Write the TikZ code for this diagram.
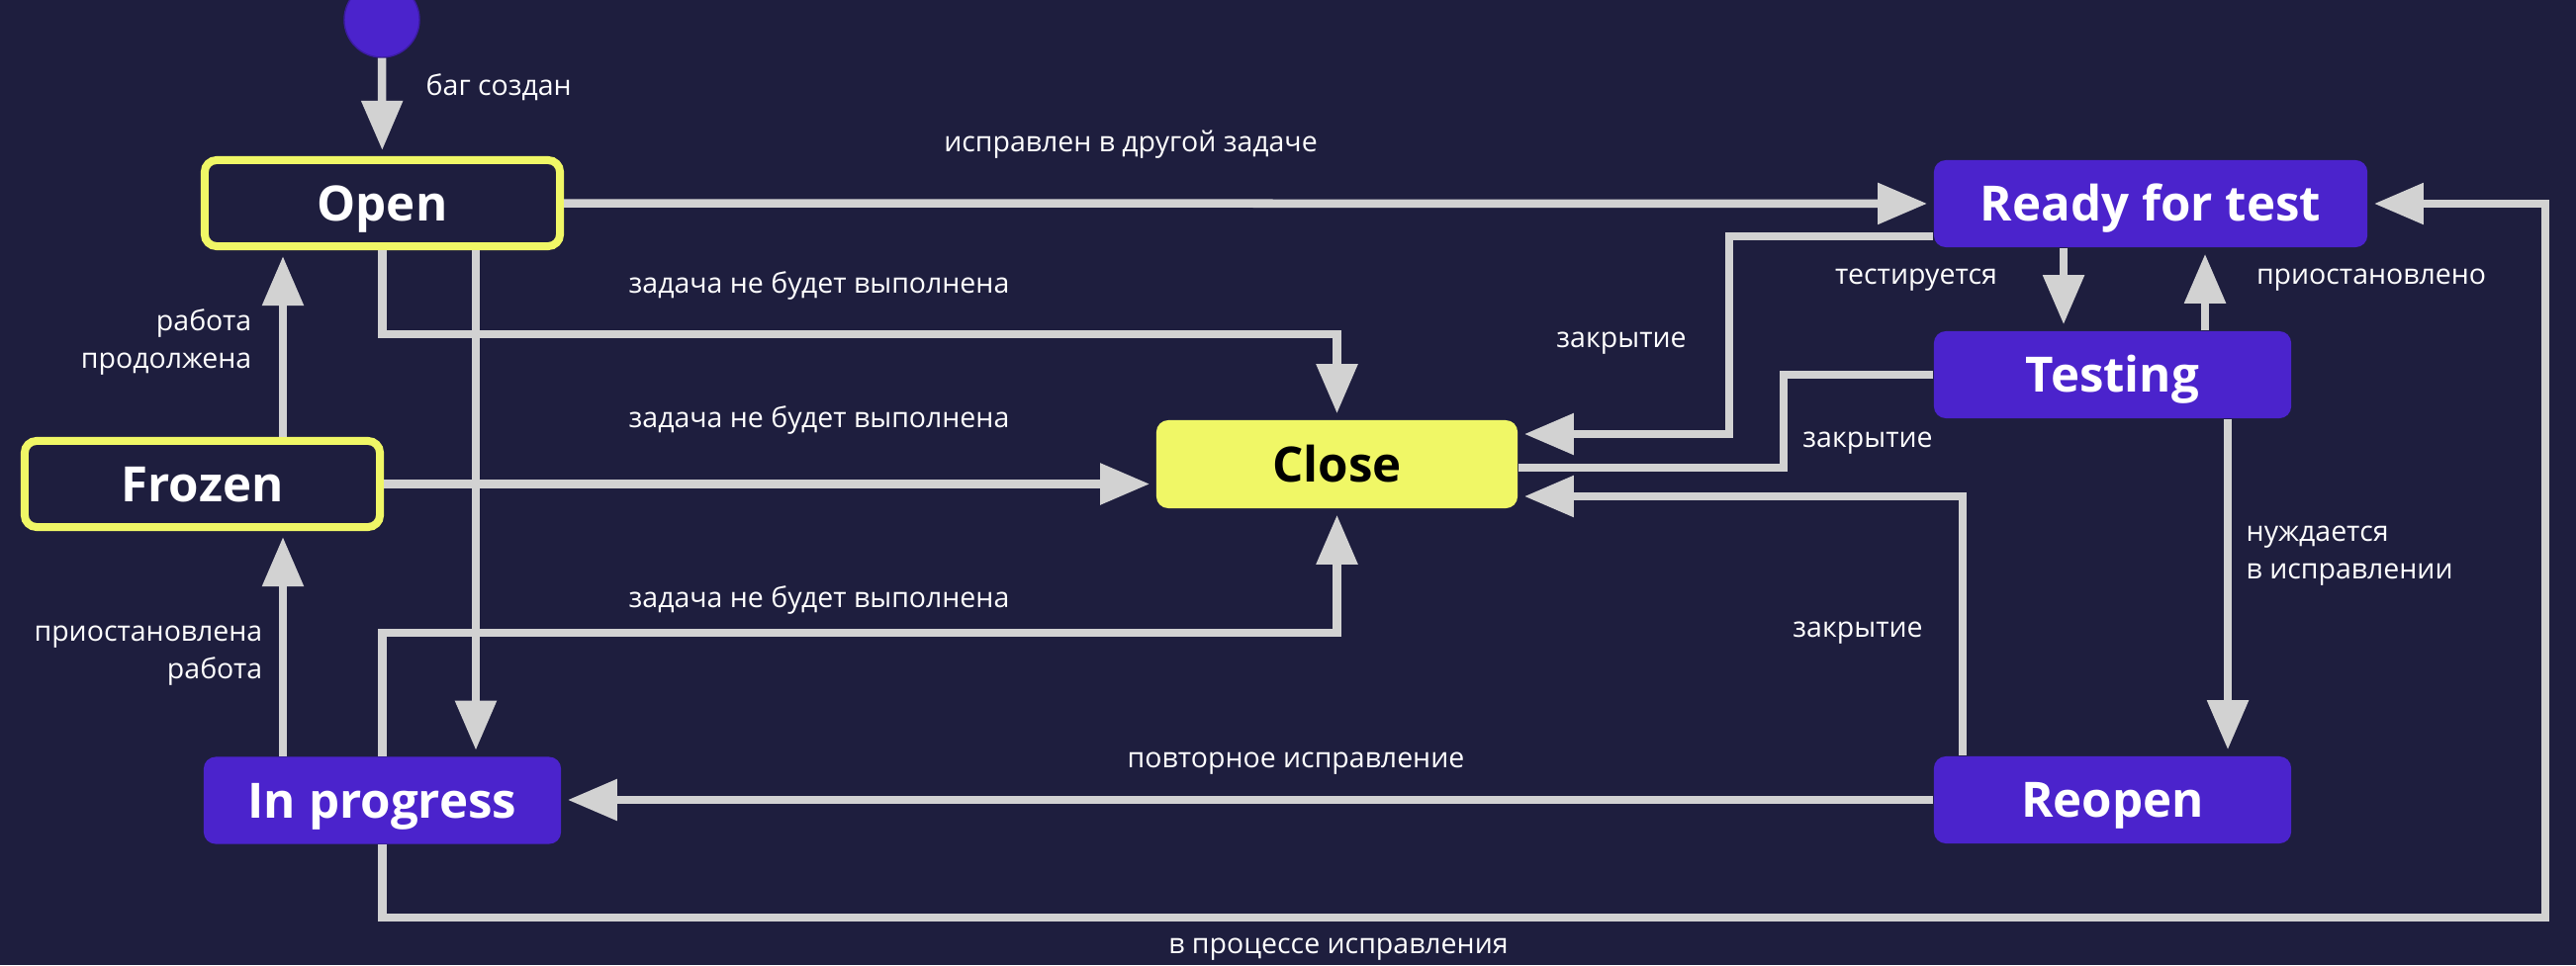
\documentclass[tikz,border=0pt]{standalone}
\usepackage{fontspec}
\setmainfont{Open Sans}
\usepackage{tikz}
\usetikzlibrary{arrows.meta,positioning}
\definecolor{bgnavy}{HTML}{1E1E3E}
\definecolor{bugpurple}{HTML}{4B23CC}
\definecolor{bugyellow}{HTML}{F0F766}
\definecolor{conngray}{HTML}{D2D2D2}
\tikzset{font=\fontsize{8.1}{10.8}\selectfont}
\tikzstyle{circ}=[circle,fill=bugpurple,draw=bugpurple!80!black,minimum size=0.76cm,inner sep=0pt]
\tikzstyle{stbase}=[rounded corners=0.12cm,inner sep=0pt,text height=10pt,text depth=0pt,font=\fontsize{14}{16}\selectfont\bfseries]
\tikzstyle{framed}=[stbase,fill=bgnavy,draw=bugyellow,line width=0.08cm,text=white,minimum width=3.59cm,minimum height=0.87cm]
\tikzstyle{work}=[stbase,fill=bugpurple,text=white,minimum width=3.61cm,minimum height=0.88cm]
\tikzstyle{closed}=[stbase,fill=bugyellow,text=black,minimum width=3.65cm,minimum height=0.89cm]
\tikzstyle{lbl}=[text=white,inner sep=0pt]
\tikzstyle{conn}=[color=conngray,line width=0.085cm]
\tikzstyle{connarr}=[conn,-{Triangle[length=0.5cm,width=0.4cm]},shorten >=0.06cm]

\begin{document}
\begin{tikzpicture}[x=0.01cm,y=-0.01cm]
\fill[bgnavy] (0,0) rectangle (2604,976);
\useasboundingbox (0,0) rectangle (2604,976);
% states
\node[circ] (S) at (386,20) {};
\node[framed] (O) at (386.5,205.5) {Open};
\node[framed] (F) at (204.5,489.5) {Frozen};
\node[work] (I) at (386.5,809.5) {In progress};
\node[closed] (C) at (1351.5,469.5) {Close};
\node[work,minimum width=4.38cm] (R) at (2174,206) {Ready for test};
\node[work] (T) at (2135.5,379) {Testing};
\node[work] (RO) at (2135.5,809) {Reopen};
% labels
\node[lbl,anchor=west] (made) at (430,88) {баг создан};
\node[lbl] (other) at (1143,146) {исправлен в другой задаче};
\node[lbl] (wont1) at (828,289) {задача не будет выполнена};
\node[lbl] (wont2) at (828,425) {задача не будет выполнена};
\node[lbl] (wont3) at (828,607) {задача не будет выполнена};
\node[lbl,anchor=east,align=right] (resume) at (255,346) {работа\\продолжена};
\node[lbl,anchor=east,align=right] (pause) at (266,663) {приостановлена\\работа};
\node[lbl] (refix) at (1310,772) {повторное исправление};
\node[lbl] (infix) at (1353,960) {в процессе исправления};
\node[lbl] (test) at (1937,283) {тестируется};
\node[lbl] (halt) at (2397,283) {приостановлено};
\node[lbl] (cl1) at (1639,347) {закрытие};
\node[lbl] (cl2) at (1888,448) {закрытие};
\node[lbl] (cl3) at (1878,640) {закрытие};
\node[lbl,anchor=west,align=left] (needs) at (2270,562) {нуждается\\в исправлении};
% bent connectors
\draw[connarr] (O.south) -- (O.south |- 0,338) -| (C.north);
\draw[connarr] (I.north) -- (I.north |- 0,640) -| (C.south);
\draw[connarr] (I.south) |- (2573,928) |- (R.east);
\draw[connarr] (R.west |- 0,239) -| (1748,439) -- (C.east |- 0,439);
\draw[conn] (T.west) -| (1803,473) -- (C.east |- 0,473);
\draw[connarr] (RO.north -| 1984,0) |- (C.east |- 0,502);
% straight connectors
\path[connarr]
(S) edge (O)
(O) edge (R)
(F.east) edge (F.east -| C.west)
(RO.west) edge (RO.west -| I.east)
(F.north -| 286,0) edge (O.south -| 286,0)
(I.north -| 286,0) edge (F.south -| 286,0)
(R.south -| 2086,0) edge (T.north -| 2086,0)
(T.north -| 2229,0) edge (R.south -| 2229,0)
(T.south -| 2252,0) edge (RO.north -| 2252,0)
(O.south -| 481,0) edge (I.north -| 481,0);
\end{tikzpicture}
\end{document}
